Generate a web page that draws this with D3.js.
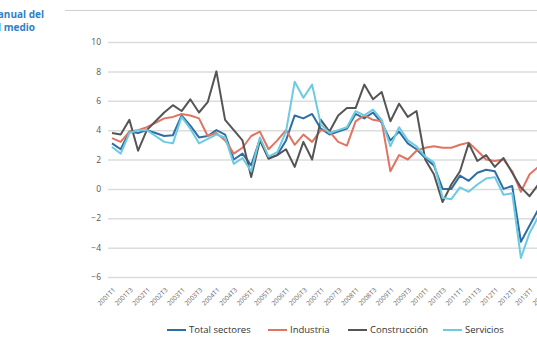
<!DOCTYPE html>
<html><head><meta charset="utf-8">
<script src="https://cdn.jsdelivr.net/npm/d3@7"></script>
<style>
html,body{margin:0;padding:0;background:#fff;}
svg{display:block;overflow:hidden;}
text{font-family:"Open Sans","Noto Sans",sans-serif;}
</style></head>
<body>
<svg id="c" width="537" height="358"></svg>
<script>
const years = d3.range(2001, 2014);
const quarters = ["T1","T2","T3","T4"];
const categories = years.flatMap(y => quarters.map(q => y + q)).slice(0, 51);
const yTicks = [-6,-4,-2,0,2,4,6,8,10];

const totalSectores = [3.1,2.7,3.9,3.8,4.0,3.8,3.6,3.65,5.0,4.3,3.5,3.6,4.0,
  3.7,2.0,2.4,1.6,3.4,2.1,2.3,3.3,5.0,4.8,5.1,4.1,
  3.7,3.9,4.1,5.1,4.8,5.2,4.5,3.3,3.9,3.1,2.7,2.1,1.6,
  0.0,0.0,0.9,0.55,1.1,1.3,1.2,0.0,0.2,-3.6,-2.5,-1.4];
const industria = [3.45,3.2,3.9,4.0,4.2,4.5,4.8,4.9,5.1,5.0,4.8,3.6,3.8,
  3.3,2.4,2.8,3.6,3.9,2.7,3.3,4.0,3.0,3.7,3.2,4.0,
  3.9,3.2,2.95,4.6,5.0,4.7,4.6,1.2,2.3,2.0,2.6,2.8,2.9,
  2.8,2.8,3.0,3.15,2.6,2.0,1.9,2.0,1.2,-0.2,1.0,1.5];
const construccion = [3.8,3.7,4.7,2.6,4.0,4.6,5.2,5.7,5.3,6.1,5.2,5.9,8.0,
  4.7,4.0,3.3,0.8,3.3,2.05,2.3,2.7,1.5,3.2,2.0,4.7,
  3.9,5.0,5.5,5.5,7.1,6.1,6.6,4.6,5.8,4.9,5.3,2.0,1.0,
  -0.9,0.3,1.2,3.1,1.9,2.3,1.5,2.1,1.1,0.1,-0.5,0.3];
const servicios = [2.85,2.4,3.8,4.0,4.0,3.6,3.2,3.1,4.9,4.1,3.1,3.4,3.7,
  3.5,1.7,2.1,1.2,3.5,2.2,2.5,3.9,7.3,6.2,7.1,4.4,
  3.8,4.0,4.2,5.3,5.0,5.4,4.7,2.9,4.2,3.3,2.9,2.2,1.8,
  -0.6,-0.7,0.1,-0.2,0.3,0.7,0.8,-0.4,-0.3,-4.7,-3.0,-1.9];

const seriesNames = ["Total sectores","Industria","Construcción","Servicios"];
const seriesValues = [totalSectores, industria, construccion, servicios];
const colors = ["#2f6ea5","#e07462","#555555","#6ccbe2"];

const svg = d3.select("#c");
const x = d3.scalePoint().domain(categories).range([112, 112 + 8.7*50]);
const y = d3.scaleLinear().domain([-6, 10]).range([277, 42]);

// top rule
svg.append("line").attr("x1",65).attr("x2",537).attr("y1",10.5).attr("y2",10.5)
  .attr("stroke","#cfcfcf").attr("stroke-width",1);

// title (cut at left, as in the reference)
const title = svg.append("text").attr("fill","#2f7fc6").attr("font-size",10).attr("font-weight","bold").attr("text-anchor","end");
title.append("tspan").attr("x",44).attr("y",18).text("Variación interanual del");
title.append("tspan").attr("x",35).attr("y",31).text("coste salarial medio");

// grid + y axis
const yAxis = d3.axisLeft(y).tickValues(yTicks).tickSize(-(537-108)).tickPadding(7);
const gy = svg.append("g").attr("transform","translate(108,0)").call(yAxis);
gy.select(".domain").remove();
gy.selectAll(".tick line").attr("stroke","#dcdcdc").attr("stroke-width",1.5);
gy.selectAll(".tick text").attr("fill","#555").attr("font-size",8.5);

// x axis labels
const xAxis = d3.axisBottom(x).tickValues(categories.filter(c => /T[13]$/.test(c))).tickSize(0).tickPadding(0);
const gx = svg.append("g").attr("transform","translate(0,289)").call(xAxis);
gx.select(".domain").remove();
gx.selectAll(".tick text").attr("fill","#666").attr("font-size",6.5)
  .attr("text-anchor","end").attr("dy","0.3em")
  .attr("transform","translate(2,0) rotate(-45)");

// lines
const line = d3.line().x((d,i) => x(categories[i])).y(d => y(d));
seriesValues.forEach((vals, k) => {
  svg.append("path").datum(vals).attr("d", line).attr("fill","none")
    .attr("stroke", colors[k]).attr("stroke-width", 2).attr("stroke-linejoin","round");
});

// legend
const legendX = [167, 268, 348, 443];
const lg = svg.append("g");
seriesNames.forEach((n, k) => {
  lg.append("line").attr("x1",legendX[k]).attr("x2",legendX[k]+19).attr("y1",330).attr("y2",330)
    .attr("stroke",colors[k]).attr("stroke-width",2);
  lg.append("text").attr("x",legendX[k]+22).attr("y",330).attr("dy","0.35em")
    .attr("font-size",9.5).attr("fill","#333").text(n);
});
</script>
</body></html>
